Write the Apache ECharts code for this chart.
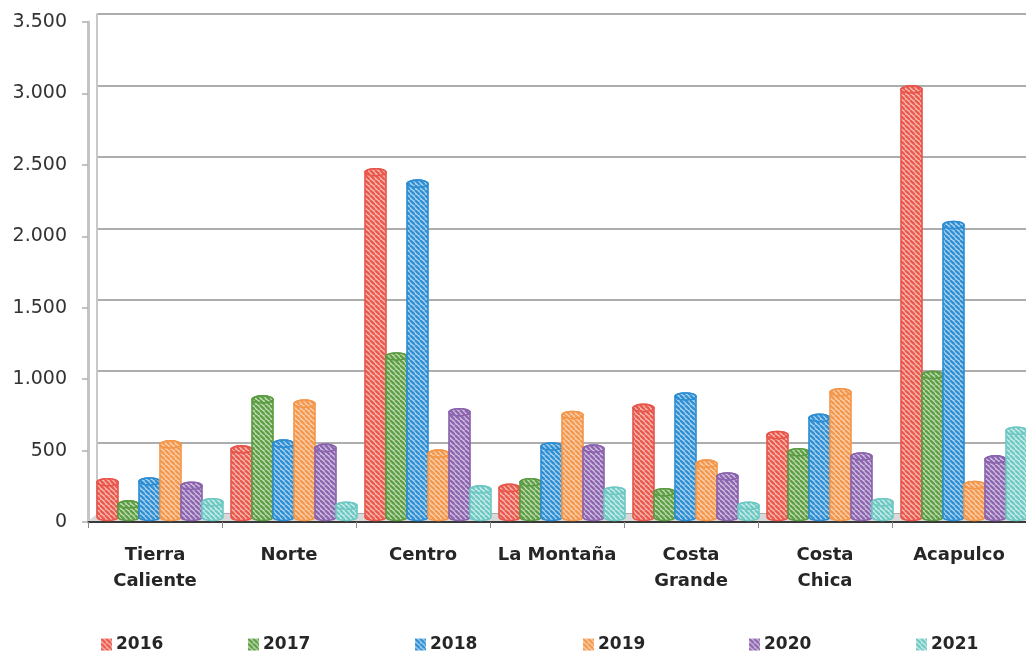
<!DOCTYPE html>
<html>
<head>
<meta charset="utf-8">
<script src="https://cdn.jsdelivr.net/npm/echarts@6/dist/echarts.min.js"></script>
<style>
html,body{margin:0;padding:0;background:#fff;}
#chart{width:1026px;height:655px;}
</style>
</head>
<body>
<div id="chart"></div>
<script>
// ---- data ----
const categories = ['Tierra\nCaliente', 'Norte', 'Centro', 'La Montaña', 'Costa\nGrande', 'Costa\nChica', 'Acapulco'];
const years = ['2016', '2017', '2018', '2019', '2020', '2021'];
const v2016 = [250, 480, 2420, 210, 770, 580, 3000];
const v2017 = [95, 830, 1130, 250, 180, 460, 1000];
const v2018 = [255, 520, 2340, 500, 850, 700, 2050];
const v2019 = [515, 800, 450, 720, 380, 880, 230];
const v2020 = [225, 490, 740, 485, 290, 430, 410];
const v2021 = [110, 85, 200, 190, 85, 110, 610];
const yTicks = { min: 0, max: 3500, interval: 500 };

const seriesValues = [v2016, v2017, v2018, v2019, v2020, v2021];

// ---- styles ----
const palette = [
  { stroke: '#E8544A', stripe: '#EA5A4E', bg: '#F7BDB5' },
  { stroke: '#5A9B42', stripe: '#5F9F46', bg: '#C3DDB6' },
  { stroke: '#2B8CD2', stripe: '#3090D4', bg: '#B0D5F0' },
  { stroke: '#F49649', stripe: '#F4994F', bg: '#FBD2B1' },
  { stroke: '#8A62AD', stripe: '#8D66AF', bg: '#D2C2E2' },
  { stroke: '#6DC8C3', stripe: '#6FC9C4', bg: '#D0EFEC' }
];

function makePattern(p) {
  const s = 5;
  const c = document.createElement('canvas');
  c.width = s; c.height = s;
  const ctx = c.getContext('2d');
  ctx.fillStyle = p.bg;
  ctx.fillRect(0, 0, s, s);
  ctx.strokeStyle = p.stripe;
  ctx.lineWidth = 2.4;
  for (let k = -s; k <= s; k += s) {
    ctx.beginPath();
    ctx.moveTo(k, 0);
    ctx.lineTo(k + s, s);
    ctx.stroke();
  }
  return { image: c, repeat: 'repeat' };
}
const patterns = palette.map(makePattern);

const chart = echarts.init(document.getElementById('chart'), null, { renderer: 'canvas' });

const FONT = 'DejaVu Sans';
const PITCH = 21, R = 10.5, RY = 3.6, SHIFT = 5, DEPTH_Y = 4;

function cylinderRenderer(si) {
  return function (params, api) {
    const idx = api.value(0);
    const v = api.value(1);
    const topPt = api.coord([idx, v]);
    const basePt = api.coord([idx, 0]);
    const cx = topPt[0] + SHIFT + (si - 2.5) * PITCH;
    const yt = topPt[1] - DEPTH_Y;
    const yb = basePt[1] - 1.5 - RY;
    const fill = patterns[si];
    const stroke = palette[si].stroke;
    const path = 'M' + (cx - R) + ' ' + yt +
      ' L' + (cx - R) + ' ' + yb +
      ' A' + R + ' ' + RY + ' 0 0 0 ' + (cx + R) + ' ' + yb +
      ' L' + (cx + R) + ' ' + yt +
      ' A' + R + ' ' + RY + ' 0 0 0 ' + (cx - R) + ' ' + yt + ' Z';
    return {
      type: 'group',
      children: [
        { type: 'path', shape: { pathData: path }, style: { fill: fill, stroke: stroke, lineWidth: 1.6 } },
        { type: 'ellipse', shape: { cx: cx, cy: yt, rx: R, ry: RY }, style: { fill: fill, stroke: stroke, lineWidth: 1.6 } }
      ]
    };
  };
}

const series = [];
// floor of the 3D plot
series.push({
  type: 'custom',
  name: 'floor',
  xAxisIndex: 0, yAxisIndex: 0,
  silent: true,
  clip: false,
  z: 1,
  data: [[0, 0]],
  renderItem: function (params, api) {
    const cs = params.coordSys;
    const x = cs.x, y = cs.y, w = cs.width, h = cs.height;
    return {
      type: 'polygon',
      shape: { points: [[x, y + h - 1], [x + 9, y + h - 8], [x + w + 9, y + h - 8], [x + w, y + h - 1]] },
      style: { fill: '#d9d9d9' }
    };
  }
});
years.forEach(function (yr, si) {
  series.push({
    type: 'custom',
    name: yr,
    xAxisIndex: 0, yAxisIndex: 0,
    clip: false,
    z: 3,
    itemStyle: { color: patterns[si] },
    data: seriesValues[si].map(function (v, i) { return [i, v]; }),
    renderItem: cylinderRenderer(si)
  });
});

function fmt(v) {
  return String(v).replace(/\B(?=(\d{3})+(?!\d))/g, '.');
}

const legendLeft = [101, 248, 415, 583, 749, 916];
const legends = years.map(function (yr, i) {
  return {
    data: [yr],
    left: legendLeft[i],
    top: 636,
    icon: 'rect',
    itemWidth: 11,
    itemHeight: 12,
    itemGap: 0,
    padding: 0,
    selectedMode: false,
    textStyle: { fontFamily: FONT, fontWeight: 'bold', fontSize: 17, color: '#262626', padding: [0, 0, 0, -1] }
  };
});

chart.setOption({
  animation: false,
  backgroundColor: '#ffffff',
  legend: legends,
  grid: [
    { left: 88, top: 22, width: 941, height: 500, containLabel: false },
    { left: 97, top: 14, width: 941, height: 500, containLabel: false }
  ],
  xAxis: [
    {
      type: 'category', gridIndex: 0, data: categories, boundaryGap: true,
      axisLine: { show: true, lineStyle: { color: '#3a3a3a', width: 2 } },
      axisTick: { show: true, length: 6, lineStyle: { color: '#8c8c8c', width: 1 } },
      axisLabel: {
        interval: 0, margin: 20, fontFamily: FONT, fontWeight: 'bold', fontSize: 18,
        color: '#262626', lineHeight: 26, verticalAlign: 'top'
      },
      splitLine: { show: false }
    },
    {
      type: 'category', gridIndex: 1, data: categories, boundaryGap: true,
      show: false
    }
  ],
  yAxis: [
    {
      type: 'value', gridIndex: 0, min: yTicks.min, max: yTicks.max, interval: yTicks.interval,
      axisLine: { show: true, lineStyle: { color: '#c4c4c4', width: 3 } },
      axisTick: { show: true, length: 6, lineStyle: { color: '#b0b0b0', width: 1.5 } },
      axisLabel: { margin: 21, fontFamily: FONT, fontSize: 19, color: '#333333', formatter: fmt },
      splitLine: { show: false }
    },
    {
      type: 'value', gridIndex: 1, min: yTicks.min, max: yTicks.max, interval: yTicks.interval,
      axisLine: { show: true, lineStyle: { color: '#c8c8c8', width: 2 } },
      axisTick: { show: false },
      axisLabel: { show: false },
      splitLine: { show: true, lineStyle: { color: '#adadad', width: 2 } }
    }
  ],
  series: series
});
</script>
</body>
</html>
